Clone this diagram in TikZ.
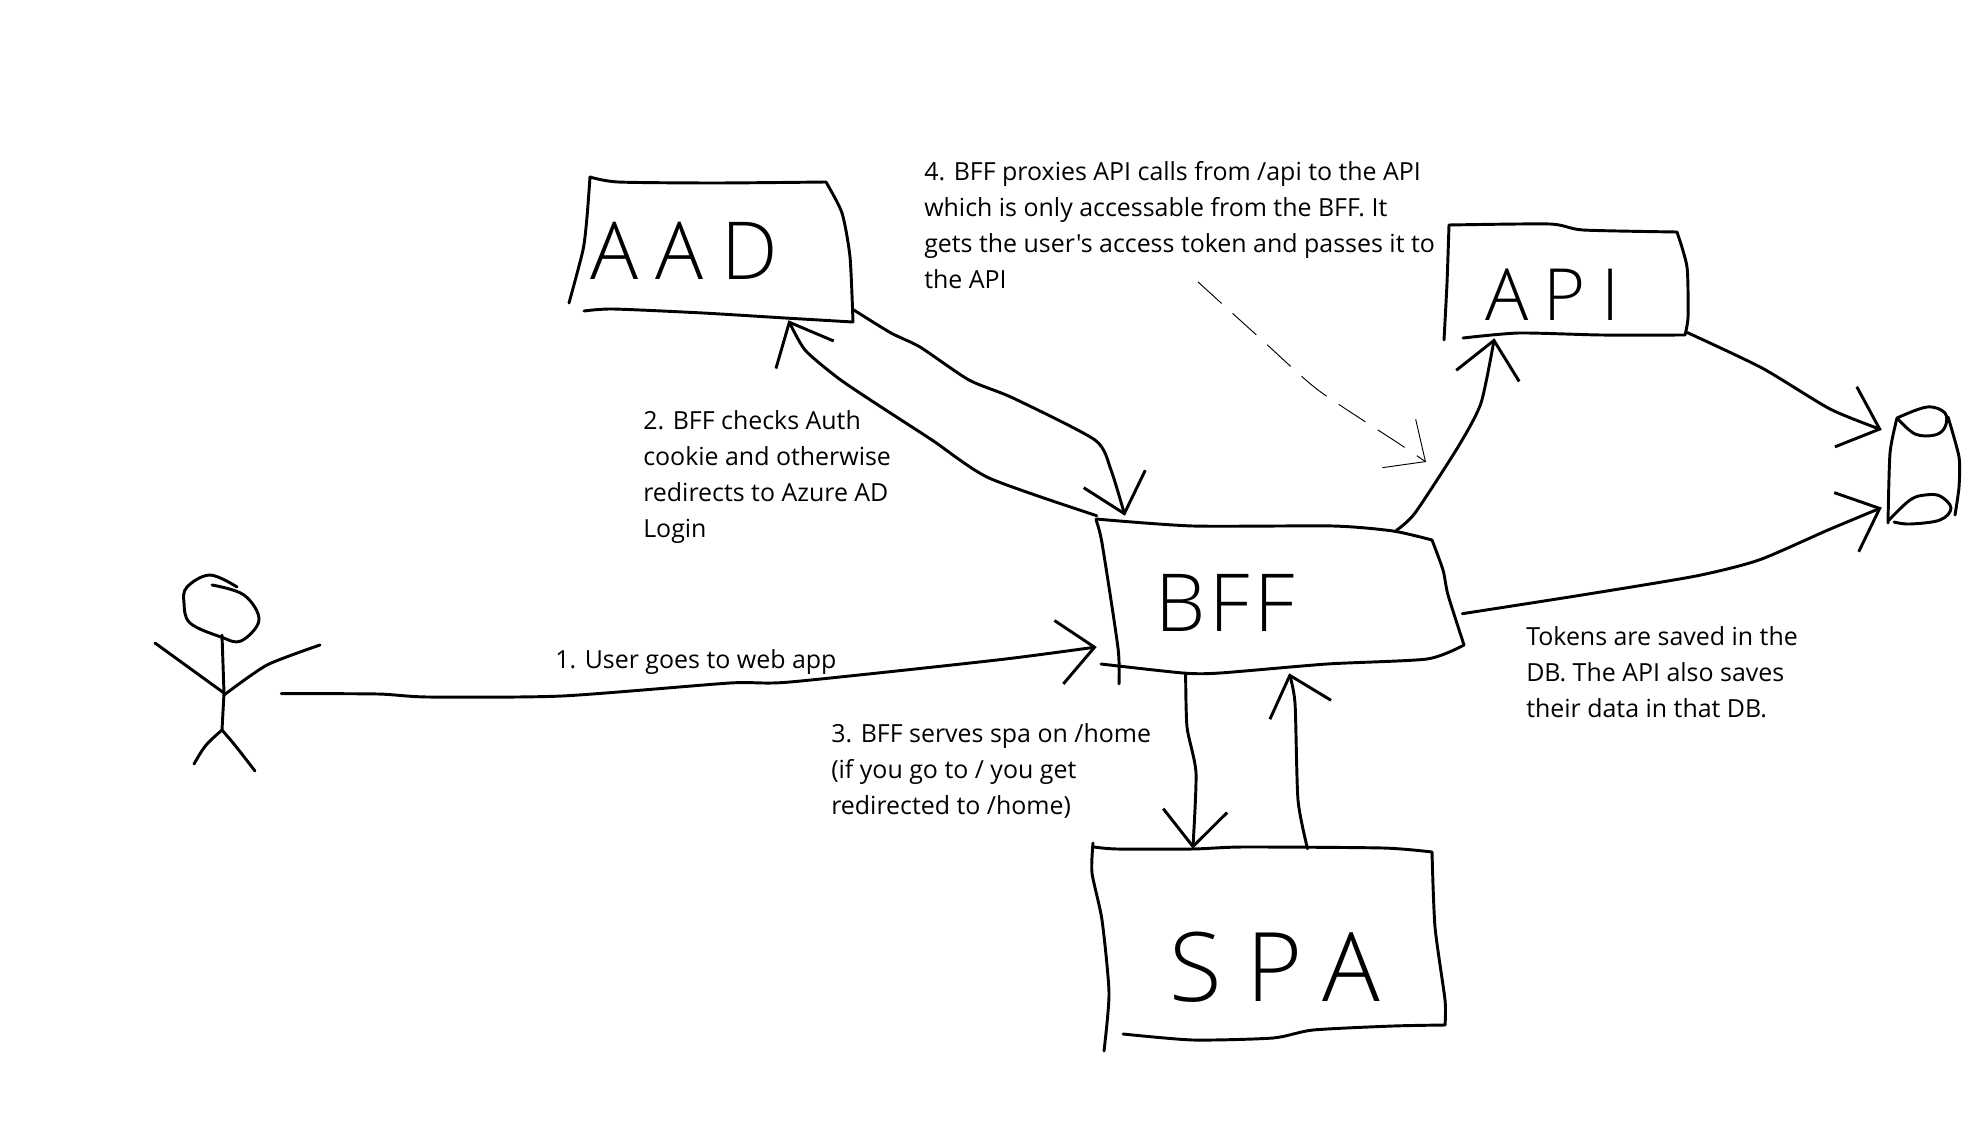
\documentclass[tikz,border=0pt]{standalone}
\usepackage{fontspec}
\newfontfamily\notefont{Open Sans}
\newfontfamily\handfont{Open Sans Light}
\usetikzlibrary{arrows.meta,positioning}
\tikzset{
  hand/.style={black,line width=2.2pt,line cap=round,line join=round},
  wire/.style={hand,-{Straight Barb[length=27pt,width=48pt]}},
  pointer/.style={black,line width=0.7pt,dash pattern=on 24pt off 11pt,-{Straight Barb[length=24pt,width=44pt]}},
  note/.style={anchor=north west,align=left,inner sep=0pt,font=\notefont\fontsize{18.7}{27}\selectfont},
  boxlabel/.style={inner sep=0pt,align=left},
}
\begin{document}
\begin{tikzpicture}[x=0.75pt,y=-0.75pt]
\useasboundingbox (0,0) rectangle (1984,1138);

% Boxes, the text sits where the pen wrote it
\node[boxlabel,text width=197.25pt,minimum height=103.5pt,font=\handfont\addfontfeature{LetterSpace=22}\fontsize{60}{60}\selectfont] (aad) at (721.5,251) {AAD};
\node[boxlabel,text width=273.75pt,minimum height=117.75pt,font=\handfont\addfontfeature{LetterSpace=6}\fontsize{60}{60}\selectfont] (bff) at (1279.5,594.5) {\hspace*{43.5pt}\raisebox{-6pt}[43pt][0pt]{BFF}};
\node[boxlabel,text width=264pt,minimum height=135.75pt,font=\handfont\addfontfeature{LetterSpace=26}\fontsize{72}{72}\selectfont] (spa) at (1269,939.5) {\hspace*{57pt}\raisebox{-21pt}[51pt][0pt]{SPA}};
\node[boxlabel,text width=180pt,minimum height=84.75pt,font=\handfont\addfontfeature{LetterSpace=21}\fontsize{54}{54}\selectfont] (api) at (1567,281.5) {\hspace*{29pt}\raisebox{-10pt}[39pt][0pt]{API}};
\node[boxlabel,text width=57.75pt,minimum height=88.5pt] (db) at (1920.5,466) {};
\node[boxlabel,text width=94.5pt,minimum height=147pt] (user) at (218,673) {};

% AAD outline
\draw[hand] plot[smooth,tension=.4] coordinates {(569,303) (583,250) (587,217) (590,177)};
\draw[hand] plot[smooth,tension=.4] coordinates {(590,177) (618,182) (715,183) (826,182)};
\draw[hand] plot[smooth,tension=.4] coordinates {(826,182) (842,213) (850,257) (853,322)};
\draw[hand] plot[smooth,tension=.4] coordinates {(853,322) (785,318) (703,313) (613,309) (584,311)};

% BFF outline
\draw[hand] plot[smooth,tension=.4] coordinates {(1096,520) (1102,543) (1118,648) (1119,684)};
\draw[hand] plot[smooth,tension=.4] coordinates {(1096,519) (1193,526) (1333,526) (1393,531) (1432,540)};
\draw[hand] plot[smooth,tension=.4] coordinates {(1432,540) (1443,570) (1448,595) (1464,645)};
\draw[hand] plot[smooth,tension=.4] coordinates {(1464,645) (1427,659) (1327,664) (1220,673) (1183,673) (1101,664)};

% SPA outline
\draw[hand] plot[smooth,tension=.4] coordinates {(1093,843) (1092,873) (1102,920) (1109,993) (1104,1051)};
\draw[hand] plot[smooth,tension=.4] coordinates {(1094,847) (1117,849) (1193,849) (1243,847) (1383,848) (1432,852)};
\draw[hand] plot[smooth,tension=.4] coordinates {(1432,852) (1435,927) (1445,1000) (1445,1025)};
\draw[hand] plot[smooth,tension=.4] coordinates {(1445,1025) (1393,1026) (1313,1030) (1273,1038) (1193,1040) (1123,1034)};

% API outline
\draw[hand] plot[smooth,tension=.4] coordinates {(1444,340) (1447,283) (1449,225)};
\draw[hand] plot[smooth,tension=.4] coordinates {(1449,225) (1550,224) (1583,230) (1677,232)};
\draw[hand] plot[smooth,tension=.4] coordinates {(1677,232) (1687,267) (1688,317) (1685,335)};
\draw[hand] plot[smooth,tension=.4] coordinates {(1685,335) (1601,335) (1519,333) (1463,338)};

% DB cylinder
\draw[hand] plot[smooth,tension=.4] coordinates {(1897,418) (1890,453) (1888,523)};
\draw[hand] plot[smooth,tension=.4] coordinates {(1948,417) (1959,457) (1959,487) (1955,515)};
\draw[hand] plot[smooth,tension=.6] coordinates {(1897,418) (1927,407) (1945,413) (1945,427) (1935,435) (1915,434) (1897,418)};
\draw[hand] plot[smooth,tension=.6] coordinates {(1889,520) (1910,500) (1925,495) (1940,496) (1951,508) (1940,520) (1910,524) (1894,522)};

% Stick figure
\draw[hand] plot[smooth,tension=.6] coordinates {(237,587) (210,575) (187,587) (184,603) (190,623) (221,637) (241,641) (259,620) (244,595) (212,585)};
\draw[hand] (222,635) -- (224,693) -- (222,730);
\draw[hand] (194,764) .. controls (205,745) .. (222,730) .. controls (235,745) .. (255,771);
\draw[hand] (155,643) -- (224,693);
\draw[hand] plot[smooth,tension=.4] coordinates {(320,645) (267,665) (224,695)};

% Connectors
\draw[wire] plot[smooth,tension=.4] coordinates {(user.-18.4) (378,694) (428,697) (562,696) (730,683) (790,682) (997,660) (bff.196.3)};
\draw[wire] plot[smooth,tension=.4] coordinates {(bff.north west) (989,478) (932,440) (875,403) (838,378) (805,350) (aad.-46.05)};
\draw[wire] plot[smooth,tension=.4] coordinates {(aad.-24.5) (891,333) (920,347) (969,380) (1013,398) (1095,440) (1111,470) (bff.153.2)};
\draw[wire] plot[smooth,tension=.4] coordinates {(bff.220.6) (1187,727) (1196,773) (spa.130)};
\draw[wire] plot[smooth,tension=.4] coordinates {(spa.67.2) (1298,800) (1295,703) (bff.277.6)};
\draw[wire] plot[smooth,tension=.4] coordinates {([yshift=-11pt]bff.34.2) (1415,513) (1458,447) (1481,403) (api.218.1)};
\draw[wire] plot[smooth,tension=.4] coordinates {(api.-23.2) (1762,368) (1830,409) (db.137.7)};
\draw[wire] plot[smooth,tension=.4] coordinates {(bff.-6.1) (1582,595) (1696,576) (1759,560) (1828,530) (db.227.5)};

% Notes
\node[note] (stepone) at (555,649) {1. User goes to web app};
\node[note] (steptwo) at (643,410) {2. BFF checks Auth\\cookie and otherwise\\redirects to Azure AD\\Login};
\node[note] (stepthree) at (831,723) {3. BFF serves spa on /home\\(if you go to / you get\\redirected to /home)};
\node[note] (stepfour) at (924,161) {4. BFF proxies API calls from /api to the API\\which is only accessable from the BFF. It\\gets the user's access token and passes it to\\the API};
\node[note] (tokens) at (1526,626) {Tokens are saved in the\\DB. The API also saves\\their data in that DB.};

% Dashed pointer
\coordinate (pointerstart) at (1198,282);
\coordinate (pointerend) at (1426,462);
\draw[pointer] plot[smooth,tension=.4] coordinates {(pointerstart) (1262,340) (1318,390) (1398,443) (pointerend)};
\end{tikzpicture}
\end{document}
